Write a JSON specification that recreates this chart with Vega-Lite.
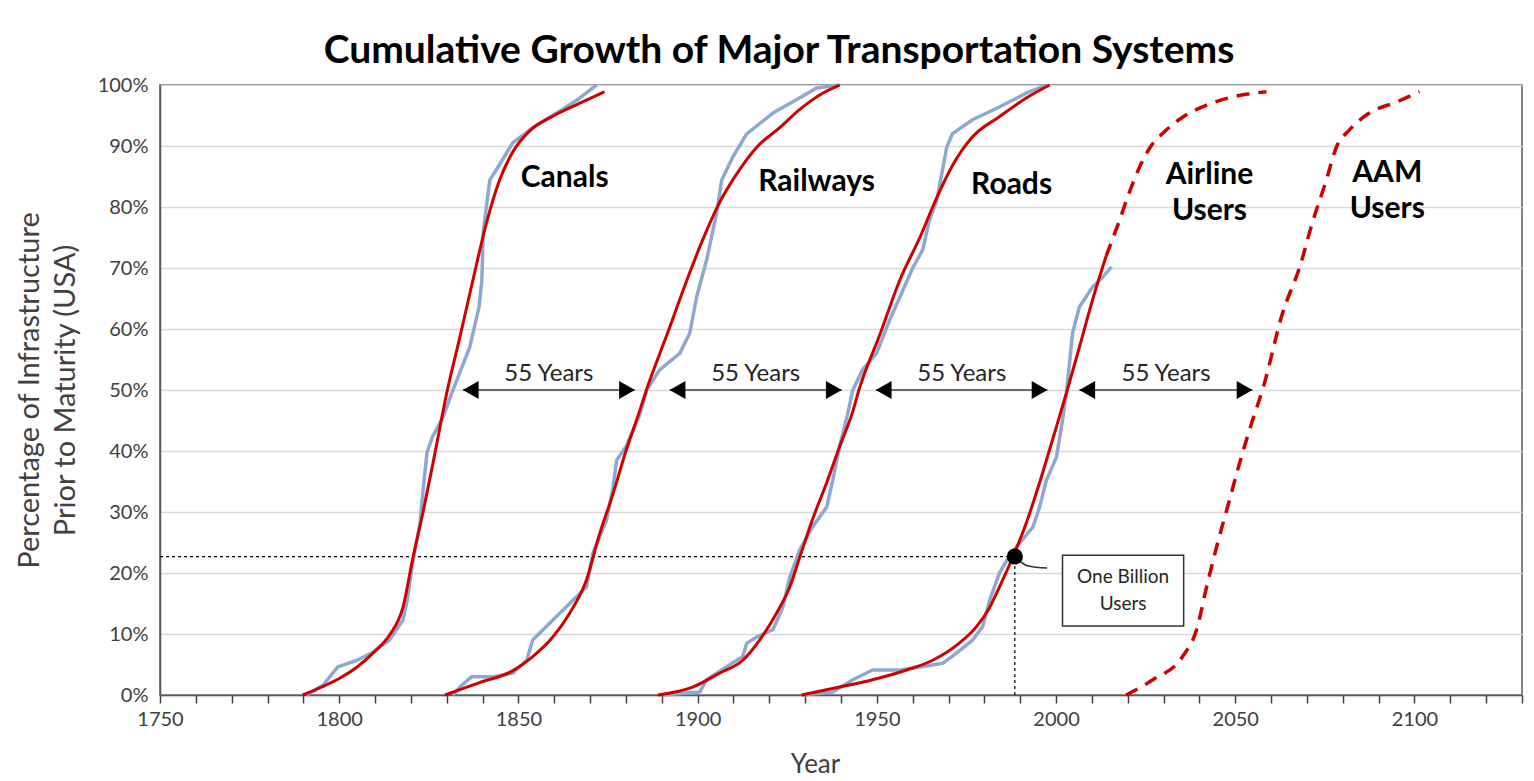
{
  "$schema": "https://vega.github.io/schema/vega-lite/v6.json",
  "width": 1362,
  "height": 610,
  "autosize": {"type": "none"},
  "padding": {"left": 160, "top": 85, "right": 12, "bottom": 86},
  "background": "white",
  "config": {
    "font": "Lato",
    "view": {"stroke": "#595959", "strokeWidth": 1.5}
  },
  "title": {
    "text": "Cumulative Growth of Major Transportation Systems",
    "font": "Lato",
    "fontSize": 39,
    "fontWeight": "bold",
    "color": "#000000",
    "anchor": "middle",
    "dx": -62,
    "offset": 4
  },
  "datasets": {
    "curves": [
      {"s": "Canals", "k": "data", "year": 1791, "pct": 0},
      {"s": "Canals", "k": "data", "year": 1795.5, "pct": 1.6},
      {"s": "Canals", "k": "data", "year": 1799.6, "pct": 4.6},
      {"s": "Canals", "k": "data", "year": 1805, "pct": 5.7},
      {"s": "Canals", "k": "data", "year": 1809.4, "pct": 7},
      {"s": "Canals", "k": "data", "year": 1814, "pct": 9},
      {"s": "Canals", "k": "data", "year": 1817.8, "pct": 12.3},
      {"s": "Canals", "k": "data", "year": 1819, "pct": 15.6},
      {"s": "Canals", "k": "data", "year": 1820.6, "pct": 22},
      {"s": "Canals", "k": "data", "year": 1822.5, "pct": 28},
      {"s": "Canals", "k": "data", "year": 1823.4, "pct": 33.6},
      {"s": "Canals", "k": "data", "year": 1824.5, "pct": 39.8},
      {"s": "Canals", "k": "data", "year": 1826, "pct": 42.3},
      {"s": "Canals", "k": "data", "year": 1829, "pct": 45.6},
      {"s": "Canals", "k": "data", "year": 1831.4, "pct": 49.5},
      {"s": "Canals", "k": "data", "year": 1836.4, "pct": 57},
      {"s": "Canals", "k": "data", "year": 1839, "pct": 63.6},
      {"s": "Canals", "k": "data", "year": 1839.8, "pct": 68},
      {"s": "Canals", "k": "data", "year": 1840.2, "pct": 76},
      {"s": "Canals", "k": "data", "year": 1842, "pct": 84.4},
      {"s": "Canals", "k": "data", "year": 1844.8, "pct": 87},
      {"s": "Canals", "k": "data", "year": 1848.4, "pct": 90.5},
      {"s": "Canals", "k": "data", "year": 1854, "pct": 93},
      {"s": "Canals", "k": "data", "year": 1860.7, "pct": 95.4},
      {"s": "Canals", "k": "data", "year": 1867, "pct": 97.8},
      {"s": "Canals", "k": "data", "year": 1871.8, "pct": 100},

      {"s": "Railways", "k": "data", "year": 1831.7, "pct": 0},
      {"s": "Railways", "k": "data", "year": 1834, "pct": 1.5},
      {"s": "Railways", "k": "data", "year": 1837, "pct": 3},
      {"s": "Railways", "k": "data", "year": 1843, "pct": 3},
      {"s": "Railways", "k": "data", "year": 1848.5, "pct": 3.6},
      {"s": "Railways", "k": "data", "year": 1852.3, "pct": 5.7},
      {"s": "Railways", "k": "data", "year": 1854, "pct": 9},
      {"s": "Railways", "k": "data", "year": 1859.6, "pct": 12.3},
      {"s": "Railways", "k": "data", "year": 1864.3, "pct": 15},
      {"s": "Railways", "k": "data", "year": 1869, "pct": 17.7},
      {"s": "Railways", "k": "data", "year": 1870.8, "pct": 23.3},
      {"s": "Railways", "k": "data", "year": 1874.6, "pct": 28.7},
      {"s": "Railways", "k": "data", "year": 1876.4, "pct": 34},
      {"s": "Railways", "k": "data", "year": 1877.4, "pct": 38.5},
      {"s": "Railways", "k": "data", "year": 1880, "pct": 40.7},
      {"s": "Railways", "k": "data", "year": 1883.9, "pct": 46},
      {"s": "Railways", "k": "data", "year": 1885.8, "pct": 50},
      {"s": "Railways", "k": "data", "year": 1889.4, "pct": 53.3},
      {"s": "Railways", "k": "data", "year": 1895, "pct": 56},
      {"s": "Railways", "k": "data", "year": 1897.8, "pct": 59.3},
      {"s": "Railways", "k": "data", "year": 1899.7, "pct": 65.2},
      {"s": "Railways", "k": "data", "year": 1902.5, "pct": 71.3},
      {"s": "Railways", "k": "data", "year": 1905.3, "pct": 79},
      {"s": "Railways", "k": "data", "year": 1906.7, "pct": 84.4},
      {"s": "Railways", "k": "data", "year": 1909.8, "pct": 88.2},
      {"s": "Railways", "k": "data", "year": 1913.7, "pct": 92},
      {"s": "Railways", "k": "data", "year": 1921, "pct": 95.4},
      {"s": "Railways", "k": "data", "year": 1928.5, "pct": 97.9},
      {"s": "Railways", "k": "data", "year": 1933.2, "pct": 99.5},
      {"s": "Railways", "k": "data", "year": 1939.6, "pct": 100},

      {"s": "Roads", "k": "data", "year": 1890.3, "pct": 0},
      {"s": "Roads", "k": "data", "year": 1900.6, "pct": 0.5},
      {"s": "Roads", "k": "data", "year": 1902.5, "pct": 2.5},
      {"s": "Roads", "k": "data", "year": 1908, "pct": 4.6},
      {"s": "Roads", "k": "data", "year": 1912.6, "pct": 6.3},
      {"s": "Roads", "k": "data", "year": 1913.7, "pct": 8.5},
      {"s": "Roads", "k": "data", "year": 1916.5, "pct": 9.5},
      {"s": "Roads", "k": "data", "year": 1921, "pct": 10.7},
      {"s": "Roads", "k": "data", "year": 1923.8, "pct": 14.4},
      {"s": "Roads", "k": "data", "year": 1925.7, "pct": 19.3},
      {"s": "Roads", "k": "data", "year": 1928.5, "pct": 23.8},
      {"s": "Roads", "k": "data", "year": 1932, "pct": 27.5},
      {"s": "Roads", "k": "data", "year": 1936, "pct": 30.8},
      {"s": "Roads", "k": "data", "year": 1937.7, "pct": 35.2},
      {"s": "Roads", "k": "data", "year": 1939.6, "pct": 40.7},
      {"s": "Roads", "k": "data", "year": 1941.9, "pct": 46.2},
      {"s": "Roads", "k": "data", "year": 1943.3, "pct": 50},
      {"s": "Roads", "k": "data", "year": 1946, "pct": 53.3},
      {"s": "Roads", "k": "data", "year": 1949.9, "pct": 56},
      {"s": "Roads", "k": "data", "year": 1953.6, "pct": 61.5},
      {"s": "Roads", "k": "data", "year": 1956.4, "pct": 65.2},
      {"s": "Roads", "k": "data", "year": 1960, "pct": 70},
      {"s": "Roads", "k": "data", "year": 1962.8, "pct": 73},
      {"s": "Roads", "k": "data", "year": 1964.7, "pct": 77.9},
      {"s": "Roads", "k": "data", "year": 1966.7, "pct": 81},
      {"s": "Roads", "k": "data", "year": 1969.5, "pct": 89.8},
      {"s": "Roads", "k": "data", "year": 1971.1, "pct": 92},
      {"s": "Roads", "k": "data", "year": 1976.7, "pct": 94.3},
      {"s": "Roads", "k": "data", "year": 1984.2, "pct": 96.4},
      {"s": "Roads", "k": "data", "year": 1991.8, "pct": 98.7},
      {"s": "Roads", "k": "data", "year": 1997.3, "pct": 100},

      {"s": "Airline", "k": "data", "year": 1929, "pct": 0},
      {"s": "Airline", "k": "data", "year": 1937.7, "pct": 0.5},
      {"s": "Airline", "k": "data", "year": 1943.3, "pct": 2.5},
      {"s": "Airline", "k": "data", "year": 1948.8, "pct": 4.1},
      {"s": "Airline", "k": "data", "year": 1956.4, "pct": 4.1},
      {"s": "Airline", "k": "data", "year": 1962, "pct": 4.6},
      {"s": "Airline", "k": "data", "year": 1968.4, "pct": 5.2},
      {"s": "Airline", "k": "data", "year": 1972.3, "pct": 6.9},
      {"s": "Airline", "k": "data", "year": 1976.7, "pct": 9},
      {"s": "Airline", "k": "data", "year": 1979.5, "pct": 11.2},
      {"s": "Airline", "k": "data", "year": 1981.5, "pct": 15.6},
      {"s": "Airline", "k": "data", "year": 1984.2, "pct": 20},
      {"s": "Airline", "k": "data", "year": 1986.2, "pct": 22},
      {"s": "Airline", "k": "data", "year": 1989, "pct": 24.3},
      {"s": "Airline", "k": "data", "year": 1993.5, "pct": 27.5},
      {"s": "Airline", "k": "data", "year": 1995.4, "pct": 30.8},
      {"s": "Airline", "k": "data", "year": 1997.3, "pct": 35.2},
      {"s": "Airline", "k": "data", "year": 2000.1, "pct": 39},
      {"s": "Airline", "k": "data", "year": 2001.8, "pct": 45},
      {"s": "Airline", "k": "data", "year": 2002.9, "pct": 49.5},
      {"s": "Airline", "k": "data", "year": 2004.6, "pct": 59.3},
      {"s": "Airline", "k": "data", "year": 2006.5, "pct": 63.6},
      {"s": "Airline", "k": "data", "year": 2010.2, "pct": 66.9},
      {"s": "Airline", "k": "data", "year": 2013, "pct": 68.5},
      {"s": "Airline", "k": "data", "year": 2015.5, "pct": 70.2},

      {"s": "Canals", "k": "fit", "year": 1789.8, "pct": 0},
      {"s": "Canals", "k": "fit", "year": 1795, "pct": 1.3},
      {"s": "Canals", "k": "fit", "year": 1800, "pct": 2.7},
      {"s": "Canals", "k": "fit", "year": 1805, "pct": 4.6},
      {"s": "Canals", "k": "fit", "year": 1810, "pct": 7.2},
      {"s": "Canals", "k": "fit", "year": 1814, "pct": 9.8},
      {"s": "Canals", "k": "fit", "year": 1817.8, "pct": 14.4},
      {"s": "Canals", "k": "fit", "year": 1820.6, "pct": 22.6},
      {"s": "Canals", "k": "fit", "year": 1823.4, "pct": 30},
      {"s": "Canals", "k": "fit", "year": 1826.5, "pct": 39},
      {"s": "Canals", "k": "fit", "year": 1830, "pct": 49.5},
      {"s": "Canals", "k": "fit", "year": 1833.6, "pct": 58.5},
      {"s": "Canals", "k": "fit", "year": 1837.3, "pct": 68},
      {"s": "Canals", "k": "fit", "year": 1841, "pct": 77.2},
      {"s": "Canals", "k": "fit", "year": 1844.8, "pct": 84.5},
      {"s": "Canals", "k": "fit", "year": 1848.4, "pct": 89},
      {"s": "Canals", "k": "fit", "year": 1853, "pct": 92.4},
      {"s": "Canals", "k": "fit", "year": 1859.6, "pct": 94.9},
      {"s": "Canals", "k": "fit", "year": 1867, "pct": 97},
      {"s": "Canals", "k": "fit", "year": 1874, "pct": 98.9},

      {"s": "Railways", "k": "fit", "year": 1829.5, "pct": 0},
      {"s": "Railways", "k": "fit", "year": 1839, "pct": 2},
      {"s": "Railways", "k": "fit", "year": 1848.5, "pct": 4},
      {"s": "Railways", "k": "fit", "year": 1854, "pct": 6.3},
      {"s": "Railways", "k": "fit", "year": 1859.6, "pct": 9.5},
      {"s": "Railways", "k": "fit", "year": 1864.3, "pct": 13.4},
      {"s": "Railways", "k": "fit", "year": 1869, "pct": 18.9},
      {"s": "Railways", "k": "fit", "year": 1872.7, "pct": 26.5},
      {"s": "Railways", "k": "fit", "year": 1876.4, "pct": 33},
      {"s": "Railways", "k": "fit", "year": 1880, "pct": 40},
      {"s": "Railways", "k": "fit", "year": 1883.5, "pct": 46},
      {"s": "Railways", "k": "fit", "year": 1886, "pct": 50.5},
      {"s": "Railways", "k": "fit", "year": 1891.4, "pct": 59},
      {"s": "Railways", "k": "fit", "year": 1897, "pct": 68},
      {"s": "Railways", "k": "fit", "year": 1901.4, "pct": 74.6},
      {"s": "Railways", "k": "fit", "year": 1906, "pct": 80.6},
      {"s": "Railways", "k": "fit", "year": 1911, "pct": 85.5},
      {"s": "Railways", "k": "fit", "year": 1916.5, "pct": 89.8},
      {"s": "Railways", "k": "fit", "year": 1922.9, "pct": 93},
      {"s": "Railways", "k": "fit", "year": 1928.5, "pct": 96},
      {"s": "Railways", "k": "fit", "year": 1935, "pct": 98.7},
      {"s": "Railways", "k": "fit", "year": 1939.6, "pct": 100},

      {"s": "Roads", "k": "fit", "year": 1888.9, "pct": 0},
      {"s": "Roads", "k": "fit", "year": 1898.6, "pct": 1.3},
      {"s": "Roads", "k": "fit", "year": 1906.2, "pct": 3.6},
      {"s": "Roads", "k": "fit", "year": 1912.6, "pct": 5.7},
      {"s": "Roads", "k": "fit", "year": 1917.3, "pct": 9},
      {"s": "Roads", "k": "fit", "year": 1922, "pct": 13.4},
      {"s": "Roads", "k": "fit", "year": 1925.7, "pct": 17.7},
      {"s": "Roads", "k": "fit", "year": 1928.5, "pct": 22.6},
      {"s": "Roads", "k": "fit", "year": 1932, "pct": 28.7},
      {"s": "Roads", "k": "fit", "year": 1936, "pct": 34.8},
      {"s": "Roads", "k": "fit", "year": 1939.6, "pct": 40.7},
      {"s": "Roads", "k": "fit", "year": 1943.3, "pct": 46.5},
      {"s": "Roads", "k": "fit", "year": 1945, "pct": 50},
      {"s": "Roads", "k": "fit", "year": 1950.8, "pct": 59},
      {"s": "Roads", "k": "fit", "year": 1956.4, "pct": 68},
      {"s": "Roads", "k": "fit", "year": 1962, "pct": 75},
      {"s": "Roads", "k": "fit", "year": 1966.7, "pct": 81.5},
      {"s": "Roads", "k": "fit", "year": 1971.1, "pct": 86.8},
      {"s": "Roads", "k": "fit", "year": 1976.7, "pct": 91.5},
      {"s": "Roads", "k": "fit", "year": 1984.2, "pct": 94.8},
      {"s": "Roads", "k": "fit", "year": 1991.8, "pct": 97.9},
      {"s": "Roads", "k": "fit", "year": 1998.2, "pct": 100},

      {"s": "Airline", "k": "fit", "year": 1929, "pct": 0},
      {"s": "Airline", "k": "fit", "year": 1939.6, "pct": 1.3},
      {"s": "Airline", "k": "fit", "year": 1948.8, "pct": 2.5},
      {"s": "Airline", "k": "fit", "year": 1958.3, "pct": 4.1},
      {"s": "Airline", "k": "fit", "year": 1965.6, "pct": 5.7},
      {"s": "Airline", "k": "fit", "year": 1973, "pct": 8.5},
      {"s": "Airline", "k": "fit", "year": 1977.8, "pct": 11.2},
      {"s": "Airline", "k": "fit", "year": 1981.5, "pct": 14.4},
      {"s": "Airline", "k": "fit", "year": 1984.2, "pct": 17.7},
      {"s": "Airline", "k": "fit", "year": 1988, "pct": 22.7},
      {"s": "Airline", "k": "fit", "year": 1991.7, "pct": 28.2},
      {"s": "Airline", "k": "fit", "year": 1995.4, "pct": 34.8},
      {"s": "Airline", "k": "fit", "year": 1999, "pct": 41.8},
      {"s": "Airline", "k": "fit", "year": 2002.9, "pct": 49.5},
      {"s": "Airline", "k": "fit", "year": 2006.5, "pct": 57},
      {"s": "Airline", "k": "fit", "year": 2010.2, "pct": 64.8},
      {"s": "Airline", "k": "fit", "year": 2014, "pct": 72},

      {"s": "Airline", "k": "proj", "year": 2014, "pct": 72},
      {"s": "Airline", "k": "proj", "year": 2017.5, "pct": 77.5},
      {"s": "Airline", "k": "proj", "year": 2020.5, "pct": 82.5},
      {"s": "Airline", "k": "proj", "year": 2023.5, "pct": 86.8},
      {"s": "Airline", "k": "proj", "year": 2026.5, "pct": 90},
      {"s": "Airline", "k": "proj", "year": 2030, "pct": 92.2},
      {"s": "Airline", "k": "proj", "year": 2035, "pct": 94.6},
      {"s": "Airline", "k": "proj", "year": 2042, "pct": 96.7},
      {"s": "Airline", "k": "proj", "year": 2049, "pct": 98},
      {"s": "Airline", "k": "proj", "year": 2058.7, "pct": 98.9},

      {"s": "AAM", "k": "proj", "year": 2019.5, "pct": 0},
      {"s": "AAM", "k": "proj", "year": 2027, "pct": 2.5},
      {"s": "AAM", "k": "proj", "year": 2035.3, "pct": 6.3},
      {"s": "AAM", "k": "proj", "year": 2039.2, "pct": 10.7},
      {"s": "AAM", "k": "proj", "year": 2042, "pct": 17.7},
      {"s": "AAM", "k": "proj", "year": 2044.8, "pct": 24.3},
      {"s": "AAM", "k": "proj", "year": 2048.4, "pct": 32},
      {"s": "AAM", "k": "proj", "year": 2051.2, "pct": 38},
      {"s": "AAM", "k": "proj", "year": 2054.8, "pct": 45},
      {"s": "AAM", "k": "proj", "year": 2057.6, "pct": 50},
      {"s": "AAM", "k": "proj", "year": 2063.2, "pct": 62.6},
      {"s": "AAM", "k": "proj", "year": 2068, "pct": 70.2},
      {"s": "AAM", "k": "proj", "year": 2071.5, "pct": 77.4},
      {"s": "AAM", "k": "proj", "year": 2075.4, "pct": 84.4},
      {"s": "AAM", "k": "proj", "year": 2078.2, "pct": 89.8},
      {"s": "AAM", "k": "proj", "year": 2081.8, "pct": 92.6},
      {"s": "AAM", "k": "proj", "year": 2087.4, "pct": 95.4},
      {"s": "AAM", "k": "proj", "year": 2094.9, "pct": 97.2},
      {"s": "AAM", "k": "proj", "year": 2101.4, "pct": 98.9}
    ],
    "refs": [
      {"year": 1750, "year2": 1988.5, "pct": 22.7, "pct2": 22.7},
      {"year": 1988.5, "year2": 1988.5, "pct": 0, "pct2": 22.7}
    ],
    "leader": [
      {"year": 1988.5, "pct": 22.7},
      {"year": 1992, "pct": 21.2},
      {"year": 1997.5, "pct": 20.8}
    ],
    "dot": [{"year": 1988.5, "pct": 22.7}],
    "box": [{"year": 2001.8, "year2": 2035.6, "pct": 22.9, "pct2": 11.3}],
    "boxText": [{"year": 2018.7, "pct": 19.3, "label": "One Billion\nUsers"}],
    "arrows": [
      {"year": 1834.5, "year2": 1882.5, "pct": 50},
      {"year": 1892.2, "year2": 1940.2, "pct": 50},
      {"year": 1949.7, "year2": 1997.6, "pct": 50},
      {"year": 2006.5, "year2": 2054.8, "pct": 50}
    ],
    "heads": [
      {"year": 1834.5, "pct": 50, "dir": "left"},
      {"year": 1882.5, "pct": 50, "dir": "right"},
      {"year": 1892.2, "pct": 50, "dir": "left"},
      {"year": 1940.2, "pct": 50, "dir": "right"},
      {"year": 1949.7, "pct": 50, "dir": "left"},
      {"year": 1997.6, "pct": 50, "dir": "right"},
      {"year": 2006.5, "pct": 50, "dir": "left"},
      {"year": 2054.8, "pct": 50, "dir": "right"}
    ],
    "arrowText": [
      {"year": 1858.5, "pct": 50, "label": "55 Years"},
      {"year": 1916.2, "pct": 50, "label": "55 Years"},
      {"year": 1973.7, "pct": 50, "label": "55 Years"},
      {"year": 2030.7, "pct": 50, "label": "55 Years"}
    ],
    "labels": [
      {"year": 1862.9, "pct": 84.8, "label": "Canals"},
      {"year": 1933.2, "pct": 84.1, "label": "Railways"},
      {"year": 1987.6, "pct": 83.6, "label": "Roads"},
      {"year": 2042.8, "pct": 85.2, "label": "Airline\nUsers"},
      {"year": 2092.4, "pct": 85.6, "label": "AAM\nUsers"}
    ]
  },
  "encoding": {
    "x": {
      "field": "year",
      "type": "quantitative",
      "scale": {"domain": [1750, 2130], "nice": false, "zero": false},
      "axis": {
        "values": [1750, 1760, 1770, 1780, 1790, 1800, 1810, 1820, 1830, 1840, 1850, 1860, 1870, 1880, 1890, 1900, 1910, 1920, 1930, 1940, 1950, 1960, 1970, 1980, 1990, 2000, 2010, 2020, 2030, 2040, 2050, 2060, 2070, 2080, 2090, 2100, 2110, 2120, 2130],
        "format": "d",
        "labelExpr": "datum.value % 50 === 0 ? datum.label : ''",
        "labelFlush": false,
        "labelOverlap": false,
        "grid": false,
        "tickSize": 8,
        "tickWidth": 1.5,
        "tickColor": "#404040",
        "domainColor": "#595959",
        "domainWidth": 1.5,
        "labelFontSize": 20,
        "labelColor": "#404040",
        "labelPadding": 6,
        "title": "Year",
        "titleFontSize": 26,
        "titleFontWeight": "normal",
        "titleColor": "#404040",
        "titleX": 655,
        "titleY": 77,
        "titleAlign": "center",
        "titleBaseline": "alphabetic"
      }
    },
    "y": {
      "field": "pct",
      "type": "quantitative",
      "scale": {"domain": [0, 100], "nice": false},
      "axis": {
        "values": [0, 10, 20, 30, 40, 50, 60, 70, 80, 90, 100],
        "labelExpr": "datum.value + '%'",
        "grid": true,
        "gridColor": "#D9D9D9",
        "gridWidth": 1.5,
        "ticks": false,
        "domainColor": "#595959",
        "domainWidth": 1.5,
        "labelFontSize": 20,
        "labelColor": "#404040",
        "labelPadding": 12,
        "title": ["Percentage of Infrastructure", "Prior to Maturity (USA)"],
        "titleFontSize": 29,
        "titleFontWeight": "normal",
        "titleColor": "#404040",
        "titleLineHeight": 36,
        "titleX": -131,
        "titleBaseline": "middle"
      }
    }
  },
  "layer": [
    {
      "data": {"name": "refs"},
      "mark": {"type": "rule", "color": "#000000", "strokeWidth": 1.2, "strokeDash": [3, 3]},
      "encoding": {"x2": {"field": "year2"}, "y2": {"field": "pct2"}}
    },
    {
      "data": {"name": "curves"},
      "transform": [{"filter": "datum.k === 'data'"}],
      "mark": {"type": "line", "color": "#8FA8D1", "strokeWidth": 3.5, "strokeJoin": "round"},
      "encoding": {"detail": {"field": "s"}}
    },
    {
      "data": {"name": "curves"},
      "transform": [{"filter": "datum.k === 'fit'"}],
      "mark": {"type": "line", "color": "#D00000", "strokeWidth": 3, "interpolate": "monotone"},
      "encoding": {"detail": {"field": "s"}}
    },
    {
      "data": {"name": "curves"},
      "transform": [{"filter": "datum.k === 'proj'"}],
      "mark": {"type": "line", "color": "#D00000", "strokeWidth": 3.5, "strokeDash": [13, 9], "interpolate": "monotone"},
      "encoding": {"detail": {"field": "s"}}
    },
    {
      "data": {"name": "leader"},
      "mark": {"type": "line", "color": "#333333", "strokeWidth": 1.5, "interpolate": "monotone"},
      "encoding": {}
    },
    {
      "data": {"name": "dot"},
      "mark": {"type": "point", "shape": "circle", "filled": true, "color": "#000000", "size": 260, "opacity": 1}
    },
    {
      "data": {"name": "box"},
      "mark": {"type": "rect", "fill": "#FFFFFF", "stroke": "#333333", "strokeWidth": 1.5},
      "encoding": {"x2": {"field": "year2"}, "y2": {"field": "pct2"}}
    },
    {
      "data": {"name": "boxText"},
      "mark": {"type": "text", "fontSize": 19, "color": "#262626", "lineBreak": "\n", "lineHeight": 27, "baseline": "middle", "align": "center"},
      "encoding": {"text": {"field": "label"}}
    },
    {
      "data": {"name": "arrows"},
      "mark": {"type": "rule", "color": "#404040", "strokeWidth": 1.5},
      "encoding": {"x2": {"field": "year2"}}
    },
    {
      "data": {"name": "heads"},
      "transform": [{"filter": "datum.dir === 'left'"}],
      "mark": {"type": "point", "shape": "triangle-left", "filled": true, "color": "#000000", "size": 330, "opacity": 1, "xOffset": 7.9}
    },
    {
      "data": {"name": "heads"},
      "transform": [{"filter": "datum.dir === 'right'"}],
      "mark": {"type": "point", "shape": "triangle-right", "filled": true, "color": "#000000", "size": 330, "opacity": 1, "xOffset": -7.9}
    },
    {
      "data": {"name": "arrowText"},
      "mark": {"type": "text", "fontSize": 24, "color": "#262626", "dy": -16, "baseline": "middle", "align": "center"},
      "encoding": {"text": {"field": "label"}}
    },
    {
      "data": {"name": "labels"},
      "mark": {"type": "text", "fontSize": 30, "fontWeight": "bold", "color": "#000000", "lineBreak": "\n", "lineHeight": 36, "baseline": "middle", "align": "center"},
      "encoding": {"text": {"field": "label"}}
    }
  ]
}
